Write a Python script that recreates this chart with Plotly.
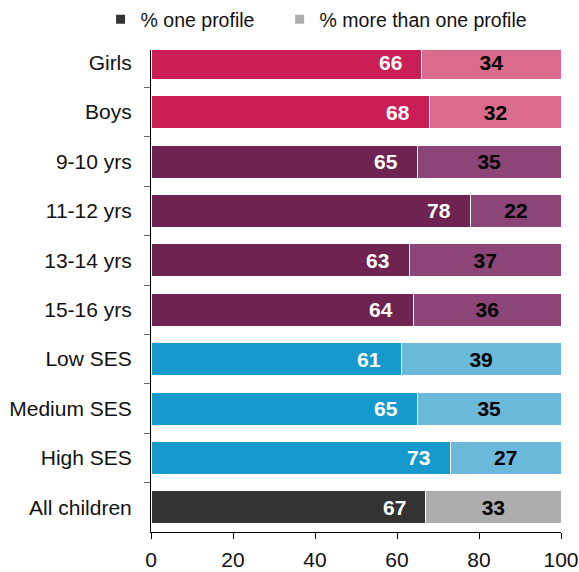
import plotly.graph_objects as go

categories = ["Girls", "Boys", "9-10 yrs", "11-12 yrs", "13-14 yrs", "15-16 yrs",
              "Low SES", "Medium SES", "High SES", "All children"]
one_profile = [66, 68, 65, 78, 63, 64, 61, 65, 73, 67]
more_profile = [34, 32, 35, 22, 37, 36, 39, 35, 27, 33]
legend_names = ["% one profile", "% more than one profile"]

dark_colors = ["#CC1E56", "#CC1E56", "#6E2350", "#6E2350", "#6E2350", "#6E2350",
               "#1699CD", "#1699CD", "#1699CD", "#333333"]
light_colors = ["#DB6B8D", "#DB6B8D", "#8B4677", "#8B4677", "#8B4677", "#8B4677",
                "#6BB9DA", "#6BB9DA", "#6BB9DA", "#ADADAD"]
legend_colors = ["#333333", "#ADADAD"]

FONT = "Liberation Sans, Arial, sans-serif"

fig = go.Figure()
fig.add_trace(go.Bar(
    y=categories, x=one_profile, orientation="h",
    marker=dict(color=dark_colors, line=dict(color="white", width=1)),
    showlegend=False, hoverinfo="skip",
))
fig.add_trace(go.Bar(
    y=categories, x=more_profile, orientation="h",
    marker=dict(color=light_colors, line=dict(color="white", width=1)),
    text=[str(v) for v in more_profile], textposition="inside",
    insidetextanchor="middle",
    textfont=dict(family=FONT, size=21, color="black", weight="bold"),
    showlegend=False, hoverinfo="skip",
))
for name, col, lg in zip(legend_names, legend_colors, ["legend", "legend2"]):
    fig.add_trace(go.Scatter(
        x=[None], y=[None], mode="markers", name=name, legend=lg,
        marker=dict(symbol="square", size=9, color=col),
    ))

annotations = []
for cat, v in zip(categories, one_profile):
    annotations.append(dict(
        x=v, y=cat, xref="x", yref="y", text=str(v), showarrow=False,
        xanchor="right", xshift=-18,
        font=dict(family=FONT, size=21, color="white", weight="bold"),
    ))

legend_common = dict(orientation="h", xref="container", yref="container",
                     xanchor="left", y=1.0, yanchor="top",
                     font=dict(family=FONT, size=19.5, color="#111111"),
                     bgcolor="rgba(0,0,0,0)", itemclick=False)

fig.update_layout(
    width=579, height=572,
    margin=dict(l=151, r=18, t=50, b=40, autoexpand=False),
    paper_bgcolor="white", plot_bgcolor="white",
    barmode="stack", bargap=0.332,
    font=dict(family=FONT, size=21, color="#111111"),
    annotations=annotations,
    legend=dict(x=0.1737, **legend_common),
    legend2=dict(x=0.4829, **legend_common),
    xaxis=dict(range=[0, 100], tickvals=[0, 20, 40, 60, 80, 100],
               showgrid=False, zeroline=False, showline=True, linecolor="black",
               linewidth=1, ticks="outside", ticklen=6, tickcolor="black",
               ticklabelstandoff=3,
               tickfont=dict(family=FONT, size=21, color="#111111"), fixedrange=True),
    yaxis=dict(categoryorder="array", categoryarray=categories,
               range=[9.5, -0.257], showgrid=False, zeroline=False,
               showline=True, linecolor="black", linewidth=1,
               ticks="outside", ticklen=6, tickcolor="#666666", tickson="boundaries",
               ticklabelstandoff=14,
               tickfont=dict(family=FONT, size=21, color="#111111"), fixedrange=True),
)

fig.write_html("out.html", config={"displayModeBar": False},
               post_script="document.body.style.margin='0';document.body.style.padding='0';")
